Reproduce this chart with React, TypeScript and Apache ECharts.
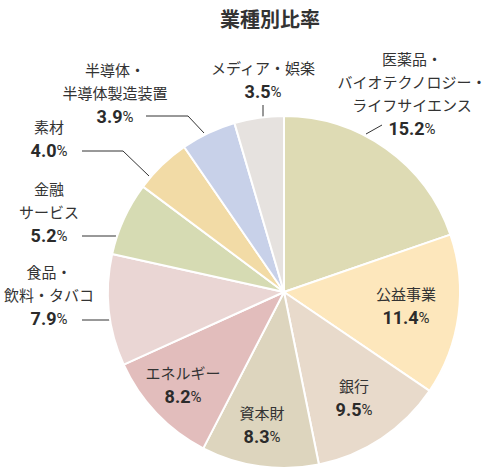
import React, { useEffect, useRef } from "react";
import * as echarts from "echarts";

const names = [
  "医薬品・\nバイオテクノロジー・\nライフサイエンス",
  "公益事業",
  "銀行",
  "資本財",
  "エネルギー",
  "食品・\n飲料・タバコ",
  "金融\nサービス",
  "素材",
  "半導体・\n半導体製造装置",
  "メディア・娯楽",
];
const values = [15.2, 11.4, 9.5, 8.3, 8.2, 7.9, 5.2, 4.0, 3.9, 3.5];
const colors = [
  "#dedbb4",
  "#fde7bc",
  "#e8dacb",
  "#ddd5be",
  "#e2bdbc",
  "#ead6d4",
  "#d6dbb3",
  "#f2dba6",
  "#c8d1e9",
  "#e6e2df",
];
const inside = [false, true, true, true, true, false, false, false, false, false];

// label placement: [centerX, y, verticalAlign]; line points for outer labels
const labelPos: [number, number, string][] = [
  [412, 141, "bottom"],
  [406, 306, "middle"],
  [354, 398, "middle"],
  [262, 425, "middle"],
  [183, 385, "middle"],
  [49, 331, "bottom"],
  [49, 248, "bottom"],
  [49, 163, "bottom"],
  [115, 129, "bottom"],
  [263, 104, "bottom"],
];
const linePts: (number[][] | null)[] = [
  [[366, 134], [382, 125]],
  null,
  null,
  null,
  null,
  [[82, 320], [110, 320]],
  [[82, 236], [116, 236]],
  [[82, 151], [123, 151], [149, 176]],
  [[146, 116], [188, 116], [204, 133]],
  [[263, 105], [263, 117]],
];

const JP = "'Noto Sans CJK JP', 'Noto Sans', sans-serif";
const NUM = "Roboto, sans-serif";

export default function App() {
  const ref = useRef<HTMLDivElement>(null);
  useEffect(() => {
    if (!ref.current) return;
    const chart = echarts.init(ref.current, null, { renderer: "svg" });
    chart.setOption({
      animation: false,
      backgroundColor: "#ffffff",
      title: {
        text: "業種別比率",
        left: 265,
        top: 3,
        textAlign: "center",
        textStyle: { fontFamily: JP, fontSize: 20, fontWeight: "bold", color: "#333333" },
      },
      series: [
        {
          type: "pie",
          center: [284, 292],
          radius: [0, 176],
          startAngle: 90,
          clockwise: true,
          avoidLabelOverlap: false,
          itemStyle: { borderColor: "#ffffff", borderWidth: 2 },
          label: {
            show: true,
            position: "outside",
            align: "center",
            formatter: (p: any) => `{n|${p.name.split("\n").join("}\n{n|")}}\n{v|${p.value.toFixed(1)}}{p|%}`,
            rich: {
              n: { fontFamily: JP, fontSize: 15, color: "#333333", lineHeight: 23, align: "center" },
              v: { fontFamily: NUM, fontSize: 18, fontWeight: "bold", color: "#2b2b2b", lineHeight: 25, align: "center" },
              p: { fontFamily: NUM, fontSize: 15, color: "#2b2b2b", lineHeight: 25, align: "center" },
            },
          },
          labelLine: { show: true, lineStyle: { color: "#333333", width: 1 } },
          labelLayout: (params: any) => {
            const i = params.dataIndex;
            const lp = labelPos[i];
            const out: any = { x: lp[0], y: lp[1], align: "center", verticalAlign: lp[2] };
            if (linePts[i]) out.labelLinePoints = linePts[i];
            return out;
          },
          data: names.map((n, i) => ({
            name: n,
            value: values[i],
            itemStyle: { color: colors[i] },
            label: inside[i] ? { position: "inside" } : undefined,
            labelLine: inside[i] ? { show: false } : undefined,
          })),
        },
      ],
    });
    return () => chart.dispose();
  }, []);
  return <div ref={ref} style={{ position: "fixed", left: 0, top: 0, width: 494, height: 469 }} />;
}
